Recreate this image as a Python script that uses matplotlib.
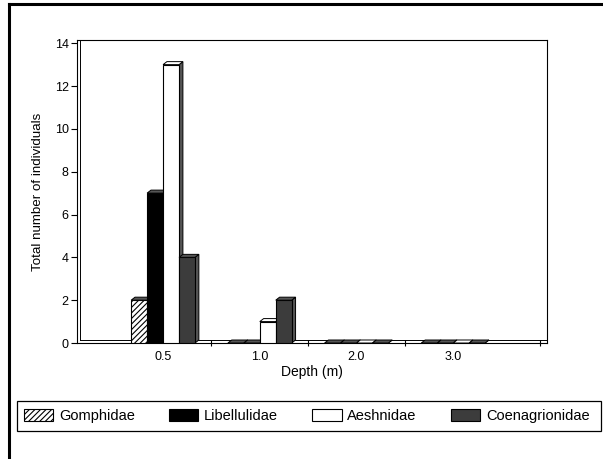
import matplotlib
matplotlib.use("Agg")
import matplotlib.pyplot as plt
from matplotlib.patches import Polygon, Rectangle, Patch
from matplotlib.lines import Line2D
import numpy as np

plt.rcParams['font.family'] = ['Liberation Sans', 'DejaVu Sans']
plt.rcParams['hatch.linewidth'] = 0.8

depths = ['0.5', '1.0', '2.0', '3.0']
families = ['Gomphidae', 'Libellulidae', 'Aeshnidae', 'Coenagrionidae']
gomphidae = [2, 0, 0, 0]
libellulidae = [7, 0, 0, 0]
aeshnidae = [13, 1, 0, 0]
coenagrionidae = [4, 2, 0, 0]

series = [gomphidae, libellulidae, aeshnidae, coenagrionidae]
faces = ['#b0b0b0', 'black', 'white', '#3c3c3c']
hatches = ['//////', None, None, None]

W, H = 603, 459
fig = plt.figure(figsize=(W / 100, H / 100), dpi=100)
ax = fig.add_axes([77 / W, 1 - 343 / H, (547 - 77) / W, (343 - 40) / H])

x = np.arange(1, len(depths) + 1)
w = 0.165
dx, dy = 0.04, 0.14  # fake 3d depth
for i, (vals, fc, h) in enumerate(zip(series, faces, hatches)):
    pos = x + (i - 1.5) * w
    ax.bar(pos, vals, w, color='white' if h else fc, edgecolor='black',
           hatch=h, linewidth=0.8, zorder=3)
    for p, v in zip(pos, vals):
        l, r = p - w / 2, p + w / 2
        top = Polygon([(l, v), (l + dx, v + dy), (r + dx, v + dy), (r, v)],
                      closed=True, facecolor='#555555' if fc != 'white' else 'white',
                      edgecolor='black', linewidth=0.7, zorder=3)
        side = Polygon([(r, 0), (r + dx, dy), (r + dx, v + dy), (r, v)],
                       closed=True, facecolor='#555555', edgecolor='black',
                       linewidth=0.7, zorder=2)
        ax.add_patch(side)
        ax.add_patch(top)

ax.set_xlim(0.11, 4.97)
ax.set_ylim(0, 14.15)
# back wall / floor lines for the 3d look
ax.plot([0.11 + 0.03, 0.11 + 0.03], [dy, 14.15], color='black', lw=0.7, zorder=1)
ax.plot([0.11 + 0.03, 4.97], [dy, dy], color='black', lw=0.7, zorder=1)

ax.set_yticks(range(0, 15, 2))
ax.set_xticks(x)
ax.set_xticklabels(depths)
ax.set_xticks([1.5, 2.5, 3.5, 4.9], minor=True)
ax.tick_params(axis='x', which='major', length=0, labelsize=9, pad=6)
ax.tick_params(axis='x', which='minor', length=5, direction='inout', width=0.8)
ax.tick_params(axis='y', length=4, width=0.8, labelsize=9, pad=2)
for s in ax.spines.values():
    s.set_linewidth(0.8)
ax.set_xlabel('Depth (m)', fontsize=10, labelpad=1)
ax.set_ylabel('Total number of individuals', fontsize=9.6, labelpad=8)

handles = [Patch(facecolor='white' if h else fc, edgecolor='black', hatch=h, linewidth=0.8)
           for fc, h in zip(faces, hatches)]
fig.legend(handles, families, loc='center left', ncol=4, frameon=False,
           bbox_to_anchor=(24 / W, 1 - 416 / H), fontsize=10.5,
           handlelength=2.0, handleheight=0.85, handletextpad=0.4,
           columnspacing=2.35, borderpad=0, borderaxespad=0)
fig.patches.append(Rectangle((17 / W, 1 - 431 / H), (601 - 17) / W, 30 / H,
                             transform=fig.transFigure, fill=False,
                             edgecolor='black', linewidth=0.9))

# outer frame: top and left edges only
fig.lines.append(Line2D([9 / W, 1], [1 - 4 / H, 1 - 4 / H], transform=fig.transFigure,
                        color='black', linewidth=2.2))
fig.lines.append(Line2D([9 / W, 9 / W], [0, 1 - 4 / H], transform=fig.transFigure,
                        color='black', linewidth=2.2))

fig.savefig('out.png', dpi=100)
